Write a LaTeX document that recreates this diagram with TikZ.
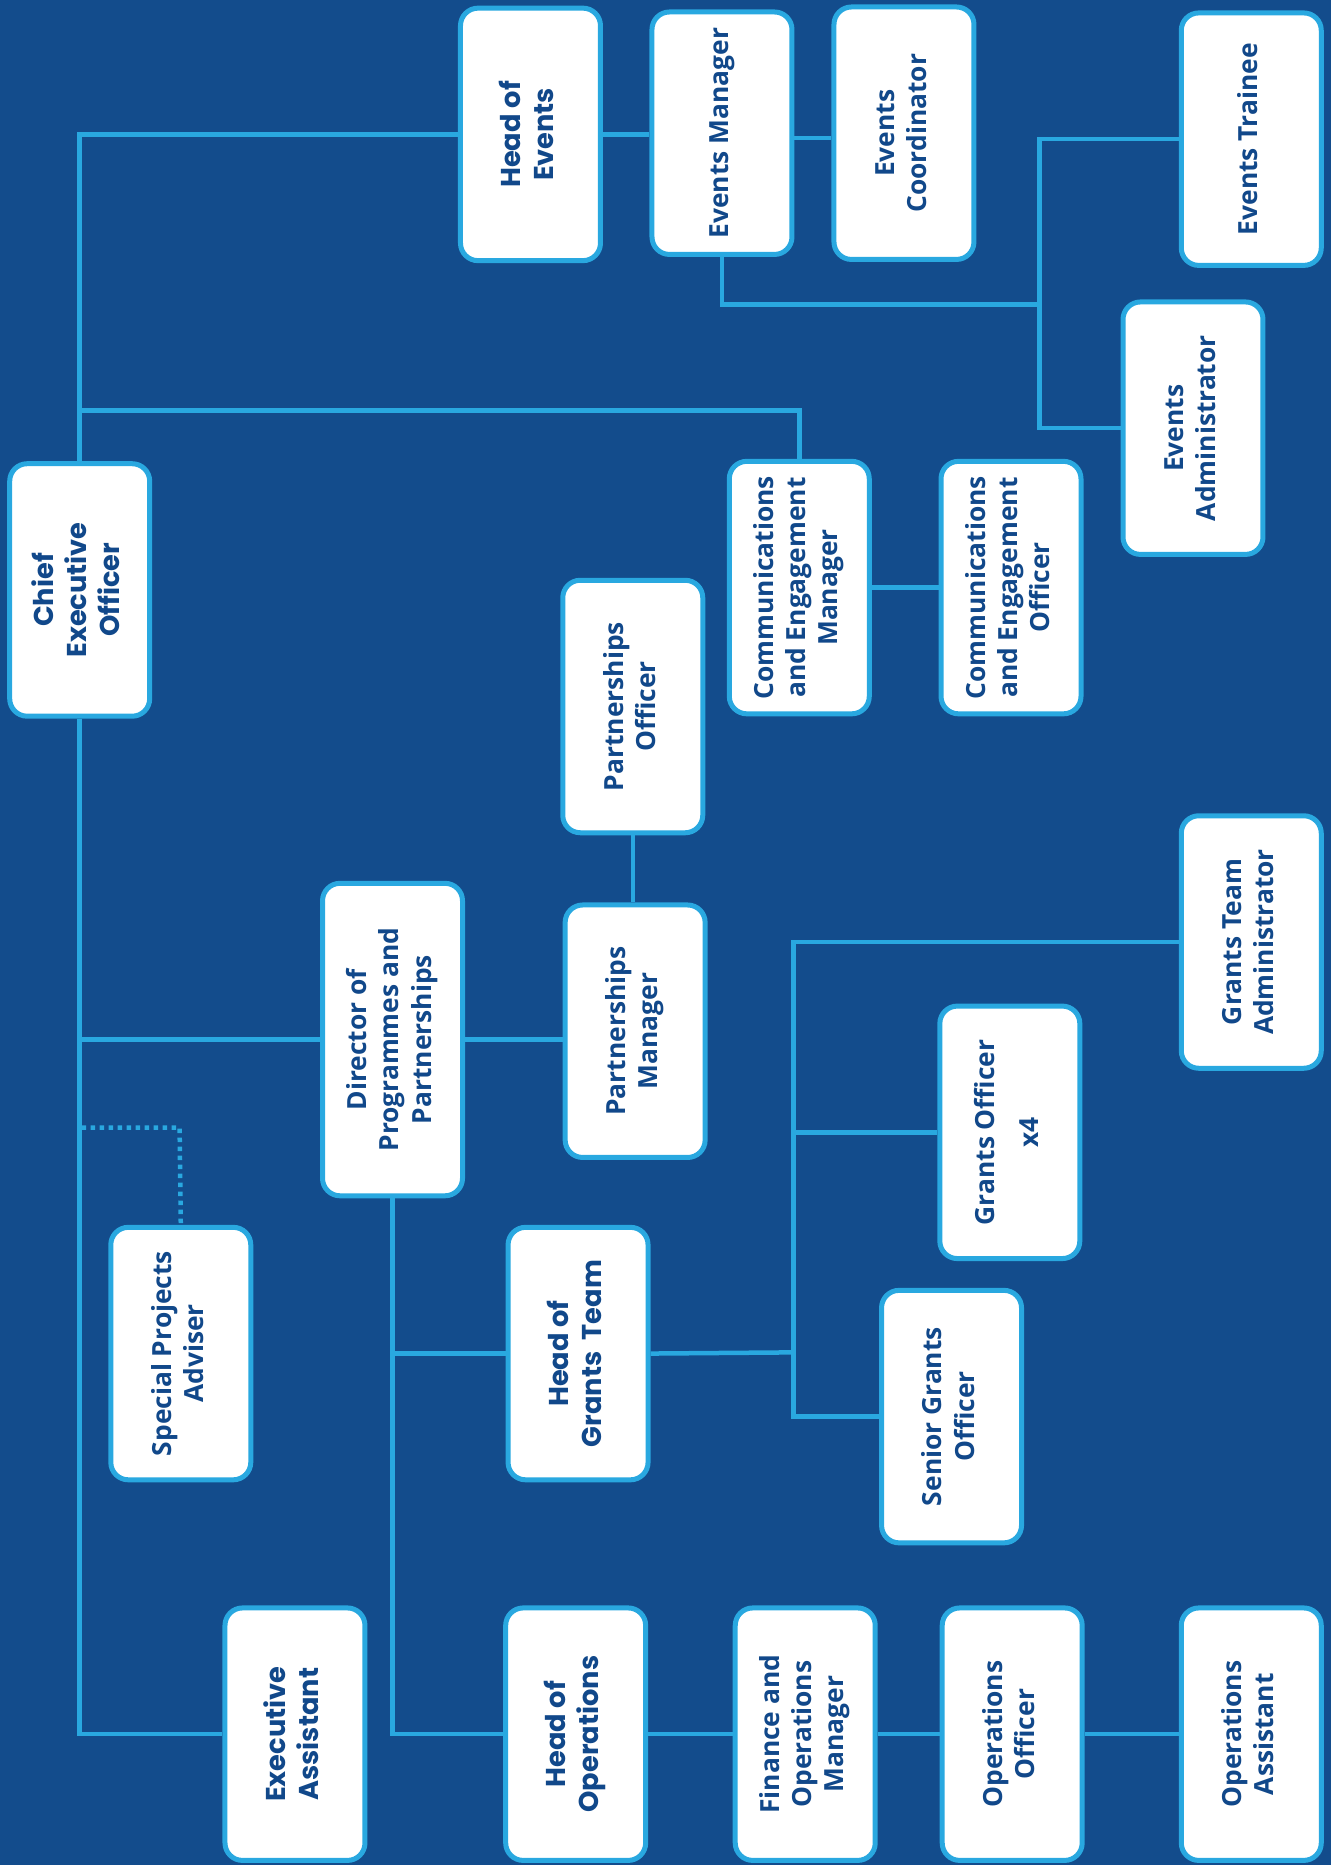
\documentclass[tikz,border=0pt]{standalone}
\usepackage{fontspec}
\setmainfont{Open Sans}
\newfontfamily\headfont{Poppins}
\usepackage{tikz}
\usetikzlibrary{positioning,calc}
\definecolor{bgblue}{RGB}{19,76,140}
\definecolor{lineblue}{RGB}{41,168,224}
\definecolor{textblue}{RGB}{17,72,138}
\newcommand{\vtext}[1]{\rotatebox{90}{\begin{tabular}{@{}c@{}}#1\end{tabular}}}

\begin{document}
\begin{tikzpicture}[x=0.2379mm,y=-0.2379mm,
  post/.style={draw=lineblue,line width=1mm,fill=white,rounded corners=3.5mm,
    minimum width=28mm,minimum height=50.5mm,inner sep=0pt,text=textblue,
    font=\fontsize{15}{18.3}\selectfont\bfseries},
  headpost/.style={post,font=\headfont\fontsize{15.5}{18.8}\selectfont\bfseries},
  link/.style={draw=lineblue,line width=0.9mm},
  dotlink/.style={draw=lineblue,line width=0.9mm,dash pattern=on 0.9mm off 0.9mm}]
% background
\fill[bgblue] (0,0) rectangle (1119,1568);
% Events
\node[headpost] (hoe) at (446,113) {\vtext{Head of\\Events}};
\node[post,minimum height=48.5mm] (evm) at (607,112) {\vtext{Events Manager}};
\node[post] (evc) at (760,112) {\vtext{Events\\Coordinator}};
\node[post] (evt) at (1052,117) {\vtext{Events Trainee}};
\node[post] (eva) at (1003,360) {\vtext{Events\\Administrator}};
% CEO and communications
\node[headpost] (ceo) at (67,496) {\vtext{Chief\\Executive\\Officer}};
\node[post] (cem) at (672,494) {\vtext{Communications\\and Engagement\\Manager}};
\node[post] (ceof) at (850,494) {\vtext{Communications\\and Engagement\\Officer}};
% Programmes and partnerships
\node[post] (pto) at (532,594) {\vtext{Partnerships\\Officer}};
\node[post,minimum height=62.5mm] (dir) at (330,874) {\vtext{Director of\\Programmes and\\Partnerships}};
\node[post] (ptm) at (534,867) {\vtext{Partnerships\\Manager}};
% Grants
\node[post] (gta) at (1052,792) {\vtext{Grants Team\\Administrator}};
\node[post] (gro) at (849,952) {\vtext{Grants Officer\\[7pt]x4}};
\node[post] (spa) at (152,1138) {\vtext{Special Projects\\Adviser}};
\node[headpost] (hgt) at (486,1138) {\vtext{Head of\\Grants~~Team}};
\node[post] (sgo) at (800,1191) {\vtext{Senior Grants\\Officer}};
% Operations
\node[headpost] (exa) at (248,1458) {\vtext{Executive\\Assistant}};
\node[headpost] (hop) at (484,1458) {\vtext{Head of\\Operations}};
\node[post] (fom) at (677,1458) {\vtext{Finance and\\Operations\\Manager}};
\node[post] (opo) at (851,1458) {\vtext{Operations\\Officer}};
\node[post] (opa) at (1052,1458) {\vtext{Operations\\Assistant}};
% junction points
\coordinate (commsrow) at (0,345);
\coordinate (evjoin) at (874,256);
\coordinate (dotturn) at (151,948);
\coordinate (gbus) at (667,1137);
% CEO lines
\draw[link] (ceo.north) |- (hoe.west);
\draw[link] (ceo.north |- commsrow) -| (cem.north);
\draw[link] (ceo.south) |- (exa.west);
\draw[link] (ceo.south |- dir.west) -- (dir.west);
\draw[dotlink] (ceo.south |- dir.west) |- (dotturn) -- (spa.north);
% Events lines
\draw[link] (hoe.east) -- (hoe.east -| evm.west);
\draw[link] ([yshift=-4*0.2379mm]evm.east) -- ([yshift=-4*0.2379mm]evm.east -| evc.west);
\draw[link] (evm.south) |- (evjoin);
\draw[link] (evt.west) -| (evjoin) |- (eva.west);
\draw[link] (cem.east) -- (ceof.west);
% Programmes lines
\draw[link] (dir.east) -- (dir.east -| ptm.west);
\draw[link] (pto.south) -- (pto.south |- ptm.north);
\draw[link] (dir.south) |- (hgt.west);
\draw[link] (dir.south) |- (hop.west);
\draw[link] (hgt.east) -- (gbus);
\draw[link] (gta.west) -| (gbus) |- (sgo.west);
\draw[link] (gro.west) -- (gro.west -| gbus);
% Operations lines
\draw[link] (hop.east) -- (fom.west);
\draw[link] (fom.east) -- (opo.west);
\draw[link] (opo.east) -- (opa.west);
\end{tikzpicture}
\end{document}
